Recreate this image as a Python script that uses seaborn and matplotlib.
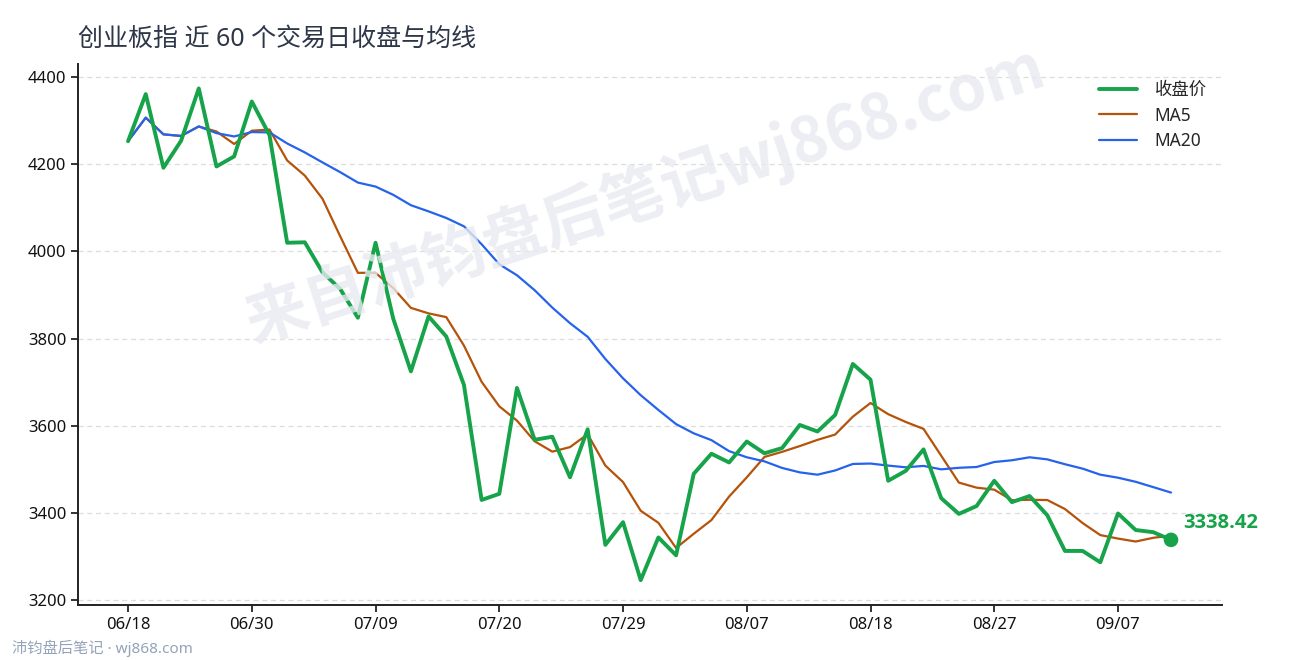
import numpy as np
import pandas as pd
import matplotlib
matplotlib.use("Agg")
import matplotlib.pyplot as plt
import seaborn as sns

# ---- data ----
close = [4253, 4361, 4192, 4254, 4374, 4195, 4218, 4344, 4267, 4020,
         4021, 3952, 3914, 3848, 4020, 3846, 3725, 3851, 3805, 3694,
         3430, 3444, 3687, 3568, 3575, 3482, 3592, 3327, 3379, 3246,
         3344, 3303, 3490, 3536, 3516, 3564, 3537, 3549, 3602, 3587,
         3625, 3742, 3706, 3474, 3497, 3546, 3434, 3398, 3416, 3474,
         3425, 3439, 3395, 3313, 3313, 3287, 3399, 3361, 3356, 3338.42]
tick_labels = ["06/18", "06/30", "07/09", "07/20", "07/29",
               "08/07", "08/18", "08/27", "09/07"]
y_ticks = [3200, 3400, 3600, 3800, 4000, 4200, 4400]
series_names = ["收盘价", "MA5", "MA20"]
title = "创业板指 近 60 个交易日收盘与均线"
watermark = "来自沛钧盘后笔记wj868.com"
footer = "沛钧盘后笔记 · wj868.com"

df = pd.DataFrame({"day": np.arange(len(close)), "close": close})
df["ma5"] = df["close"].rolling(5, min_periods=1).mean()
df["ma20"] = df["close"].rolling(20, min_periods=1).mean()

# ---- style ----
sns.set_theme(style="ticks")
plt.rcParams["font.family"] = ["Noto Sans", "Noto Sans CJK SC", "DejaVu Sans"]
plt.rcParams["axes.unicode_minus"] = False

GREEN = "#16a34a"
ORANGE = "#b45309"
BLUE = "#2563eb"

fig = plt.figure(figsize=(12.9, 6.6), dpi=100)
ax = fig.add_axes([0.0605, 0.083, 0.887, 0.82])

sns.lineplot(data=df, x="day", y="close", ax=ax, color=GREEN, lw=2.8,
             label=series_names[0], zorder=4)
sns.lineplot(data=df, x="day", y="ma5", ax=ax, color=ORANGE, lw=1.6,
             label=series_names[1], zorder=3)
sns.lineplot(data=df, x="day", y="ma20", ax=ax, color=BLUE, lw=1.6,
             label=series_names[2], zorder=3)

last_i = df["day"].iloc[-1]
last_v = df["close"].iloc[-1]
ax.scatter([last_i], [last_v], s=110, color=GREEN, zorder=5, edgecolor="none")
ax.annotate(f"{last_v:.2f}", xy=(last_i, last_v), xytext=(9, 5),
            textcoords="offset points", color=GREEN, fontsize=14.5,
            fontweight="bold", ha="left", va="bottom",
            family=["Open Sans", "DejaVu Sans"])

ax.set_xlim(-2.83, 61.9)
ax.set_ylim(3188.5, 4430)
ax.set_xticks(np.arange(0, len(close), 7)[:len(tick_labels)])
ax.set_xticklabels(tick_labels)
ax.set_yticks(y_ticks)
ax.set_xlabel("")
ax.set_ylabel("")
ax.tick_params(axis="both", labelsize=12, colors="#111111", length=5, width=1.2)
for s in ["top", "right"]:
    ax.spines[s].set_visible(False)
for s in ["left", "bottom"]:
    ax.spines[s].set_color("#222222")
    ax.spines[s].set_linewidth(1.4)
ax.yaxis.grid(True, linestyle=(0, (4, 3)), color="#dddddd", lw=0.9)
ax.set_axisbelow(True)

leg = ax.legend(loc="upper right", frameon=False, fontsize=12.5,
                handlelength=2.2, handletextpad=1.0,
                bbox_to_anchor=(1.0, 0.997), labelspacing=0.42)

fig.text(0.0605, 0.94, title, fontsize=18, color="#2d3748",
         ha="left", va="center")
fig.text(0.5, 0.705, watermark, fontsize=45, color="#e8eaf0",
         fontweight="bold", rotation=18, ha="center", va="center",
         zorder=0, alpha=0.8, family=["Noto Sans CJK SC", "DejaVu Sans"])
fig.text(0.009, 0.018, footer, fontsize=11, color="#94a3b8",
         ha="left", va="center")

fig.savefig("out.png", dpi=100)
